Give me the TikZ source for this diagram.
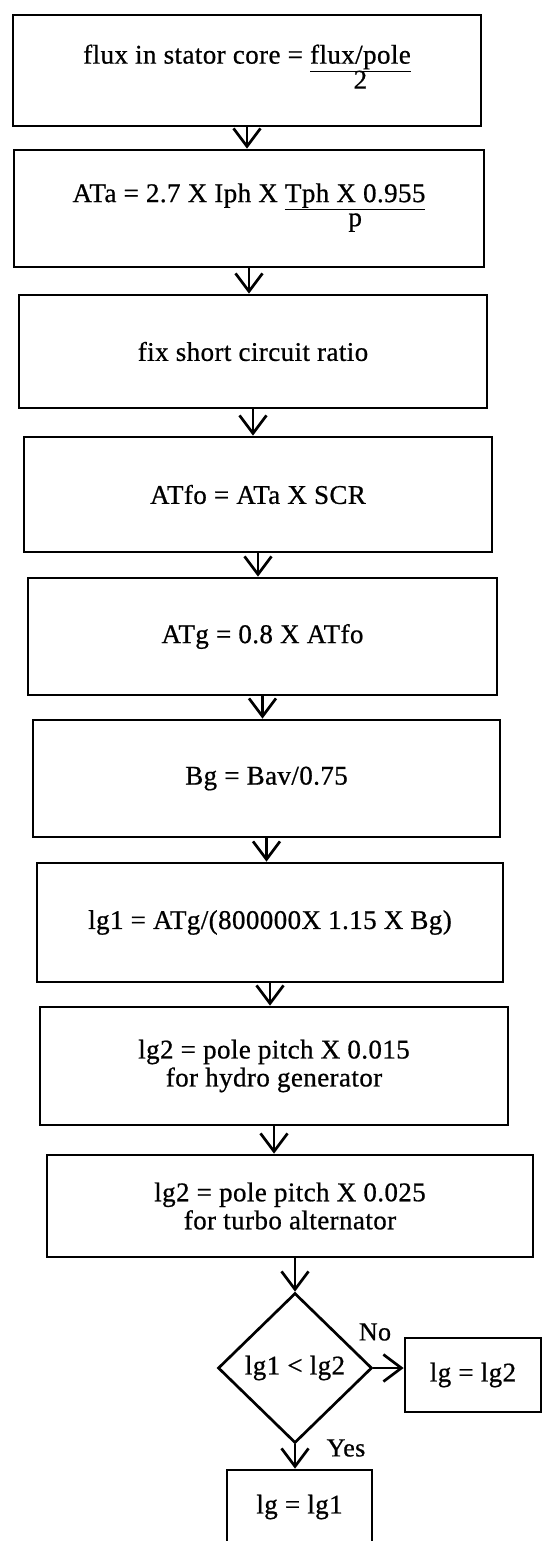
\documentclass[tikz,border=0pt]{standalone}
\usepackage{fontspec}
\setmainfont{Liberation Serif}[FakeBold=0.7,LetterSpace=1.5]
\usetikzlibrary{arrows.meta,shapes.geometric}
\begin{document}
\begin{tikzpicture}[x=1pt,y=-1pt,
  every node/.style={font=\fontsize{27}{28}\selectfont},
  stepbox/.style={draw, line width=2.7pt, align=center, inner sep=0pt},
  decision/.style={draw, diamond, line width=2.7pt, inner sep=0pt},
  flow/.style={line width=2.2pt, -{Straight Barb[length=18pt,width=27pt,line width=2.7pt]}},
  lbl/.style={inner sep=0pt, font=\fontsize{26}{28}\selectfont}]
\clip (0,0) rectangle (544,1541);
\fill[white] (0,0) rectangle (544,1541);

% process steps
\node[stepbox, minimum width=468pt, minimum height=111pt] (b1) at (247,70.5)
  {flux in stator core = \begin{tabular}[t]{@{}c@{}}\underline{flux/pole}\\[-3pt]2\end{tabular}};
\node[stepbox, minimum width=470pt, minimum height=117pt] (b2) at (249,208.5)
  {ATa = 2.7 X Iph X \begin{tabular}[t]{@{}c@{}}\underline{Tph X 0.955}\\[-4pt]p\end{tabular}};
\node[stepbox, minimum width=468pt, minimum height=113pt] (b3) at (253,351.5)
  {fix short circuit ratio};
\node[stepbox, minimum width=468pt, minimum height=115pt] (b4) at (258,494.5)
  {ATfo = ATa X SCR};
\node[stepbox, minimum width=469pt, minimum height=117pt] (b5) at (262.5,636.5)
  {ATg = 0.8 X ATfo};
\node[stepbox, minimum width=467pt, minimum height=117pt] (b6) at (266.5,778.5)
  {Bg = Bav/0.75};
\node[stepbox, minimum width=466pt, minimum height=119pt] (b7) at (270,922.5)
  {lg1 = ATg/(800000X 1.15 X Bg)};
\node[stepbox, minimum width=468pt, minimum height=118pt] (b8) at (274,1066)
  {lg2 = pole pitch X 0.015\\for hydro generator};
\node[stepbox, minimum width=486pt, minimum height=102pt] (b9) at (290,1206)
  {lg2 = pole pitch X 0.025\\for turbo alternator};

% decision and results
\node[decision, minimum width=154pt, minimum height=150pt] (d) at (295,1368) {lg1 < lg2};
\node[stepbox, minimum width=136pt, minimum height=74pt] (g2) at (473,1375) {lg = lg2};
\node[stepbox, minimum width=145pt, minimum height=74pt] (g1) at (299.5,1507) {lg = lg1};

\node[lbl] (no) at (375,1332) {No};
\node[lbl] (yes) at (346,1448) {Yes};

% connectors
\draw[flow] (b1.south) -- (b1.south |- b2.north);
\draw[flow] (b2.south) -- (b2.south |- b3.north);
\draw[flow] (b3.south) -- (b3.south |- b4.north);
\draw[flow] (b4.south) -- (b4.south |- b5.north);
\draw[flow] (b5.south) -- (b5.south |- b6.north);
\draw[flow] (b6.south) -- (b6.south |- b7.north);
\draw[flow] (b7.south) -- (b7.south |- b8.north);
\draw[flow] (b8.south) -- (b8.south |- b9.north);
\draw[flow] (d.north |- b9.south) -- (d.north);
\draw[flow] (d.south) -- (d.south |- g1.north);
\draw[flow] (d.east) -- (d.east -| g2.west);
\end{tikzpicture}
\end{document}
